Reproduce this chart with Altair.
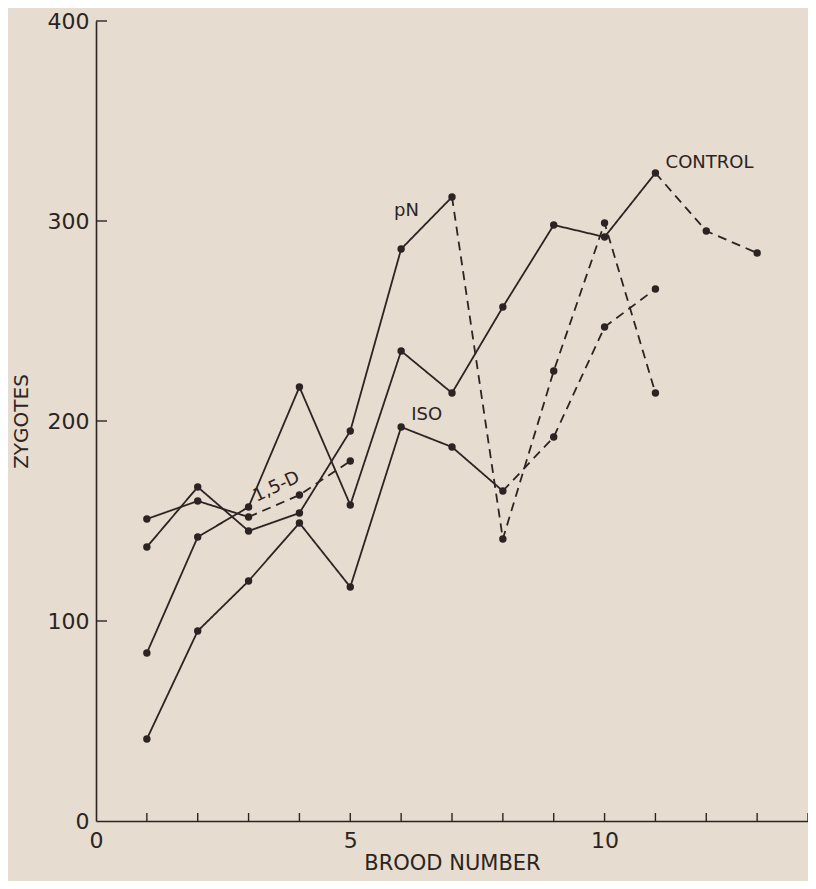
import altair as alt
import pandas as pd

# ---- data ----
control_x = [1, 2, 3, 4, 5, 6, 7, 8, 9, 10, 11, 12, 13]
control_y = [84, 142, 157, 217, 158, 235, 214, 257, 298, 292, 324, 295, 284]
control_solid_until = 11

pn_x = [1, 2, 3, 4, 5, 6, 7, 8, 9, 10, 11]
pn_y = [137, 167, 145, 154, 195, 286, 312, 141, 225, 299, 214]
pn_solid_until = 7

iso_x = [1, 2, 3, 4, 5, 6, 7, 8, 9, 10, 11]
iso_y = [41, 95, 120, 149, 117, 197, 187, 165, 192, 247, 266]
iso_solid_until = 8

d15_x = [1, 2, 3, 4, 5]
d15_y = [151, 160, 152, 163, 180]
d15_solid_until = 3

label_text = ["CONTROL", "pN", "ISO"]
label_x = [11.2, 5.86, 6.2]
label_y = [329, 305, 203]

rot_text = ["1,5-D"]
rot_x = [3.55]
rot_y = [167]
rot_angle = [335]

x_tick_values = list(range(1, 15))
y_tick_values = [100, 200, 300, 400]
x_label_values = [0, 5, 10]
y_label_values = [0, 100, 200, 300, 400]

# ---- build tables ----
rows = []
pts = []
series = [("CONTROL", control_x, control_y, control_solid_until),
          ("pN", pn_x, pn_y, pn_solid_until),
          ("ISO", iso_x, iso_y, iso_solid_until),
          ("1,5-D", d15_x, d15_y, d15_solid_until)]
for name, xs, ys, cut in series:
    for x, y in zip(xs, ys):
        pts.append({"series": name, "brood": x, "zyg": y})
        if x <= cut:
            rows.append({"seg": name + "-s", "style": "solid", "brood": x, "zyg": y})
        if x >= cut:
            rows.append({"seg": name + "-d", "style": "dashed", "brood": x, "zyg": y})
lines_df = pd.DataFrame(rows)
pts_df = pd.DataFrame(pts)
labels_df = pd.DataFrame({"text": label_text, "brood": label_x, "zyg": label_y})
rot_df = pd.DataFrame({"text": rot_text, "brood": rot_x, "zyg": rot_y, "angle": rot_angle})
xt_df = pd.DataFrame({"brood": x_tick_values})
yt_df = pd.DataFrame({"zyg": y_tick_values})

W, H = 712, 800
INK = "#2b2422"
FONT = "DejaVu Sans"

xscale = alt.Scale(domain=[0, 14], nice=False, zero=False)
yscale = alt.Scale(domain=[0, 400], nice=False)

xaxis = alt.Axis(values=x_label_values, ticks=False, grid=False, domain=True,
                 domainColor=INK, domainWidth=1.6, labelFontSize=22, labelFont=FONT,
                 labelColor=INK, labelPadding=9, title="BROOD NUMBER",
                 titleFontSize=21, titleFont=FONT, titleFontWeight="normal",
                 titleColor=INK, titlePadding=1, labelFlush=False)
yaxis = alt.Axis(values=y_label_values, ticks=False, grid=False, domain=True,
                 domainColor=INK, domainWidth=1.6, labelFontSize=22, labelFont=FONT,
                 labelColor=INK, labelPadding=7, title="ZYGOTES",
                 titleFontSize=20, titleFont=FONT, titleFontWeight="normal",
                 titleColor=INK, titlePadding=16, labelFlush=False)

lines = alt.Chart(lines_df).mark_line(color=INK, strokeWidth=1.8).encode(
    x=alt.X("brood:Q", scale=xscale, axis=xaxis),
    y=alt.Y("zyg:Q", scale=yscale, axis=yaxis),
    detail="seg:N",
    strokeDash=alt.StrokeDash("style:N", scale=alt.Scale(domain=["solid", "dashed"],
                                                          range=[[1, 0], [9, 6]]), legend=None),
)

points = alt.Chart(pts_df).mark_circle(color=INK, size=55, opacity=1).encode(
    x=alt.X("brood:Q", scale=xscale),
    y=alt.Y("zyg:Q", scale=yscale),
)

xticks = alt.Chart(xt_df).mark_rule(color=INK, strokeWidth=1.4).encode(
    x=alt.X("brood:Q", scale=xscale),
    y=alt.value(H), y2=alt.value(H - 8),
)
yticks = alt.Chart(yt_df).mark_rule(color=INK, strokeWidth=1.4).encode(
    y=alt.Y("zyg:Q", scale=yscale),
    x=alt.value(0), x2=alt.value(11),
)

labels = alt.Chart(labels_df).mark_text(color=INK, font=FONT, fontSize=18, align="left",
                                        baseline="middle").encode(
    x=alt.X("brood:Q", scale=xscale),
    y=alt.Y("zyg:Q", scale=yscale),
    text="text:N",
)

rot_labels = alt.Chart(rot_df).mark_text(color=INK, font=FONT, fontSize=18, align="center",
                                         baseline="middle").encode(
    x=alt.X("brood:Q", scale=xscale),
    y=alt.Y("zyg:Q", scale=yscale),
    text="text:N",
    angle=alt.Angle("angle:Q", scale=None),
)

chart = alt.layer(lines, points, xticks, yticks, labels, rot_labels).properties(
    width=W, height=H,
    background="#e6dccf",
    autosize=alt.AutoSizeParams(type="none"),
    padding={"left": 88, "top": 13, "right": 0, "bottom": 60},
).configure_view(stroke=None)

chart.save("out.html", embed_options={"renderer": "svg", "actions": False})
